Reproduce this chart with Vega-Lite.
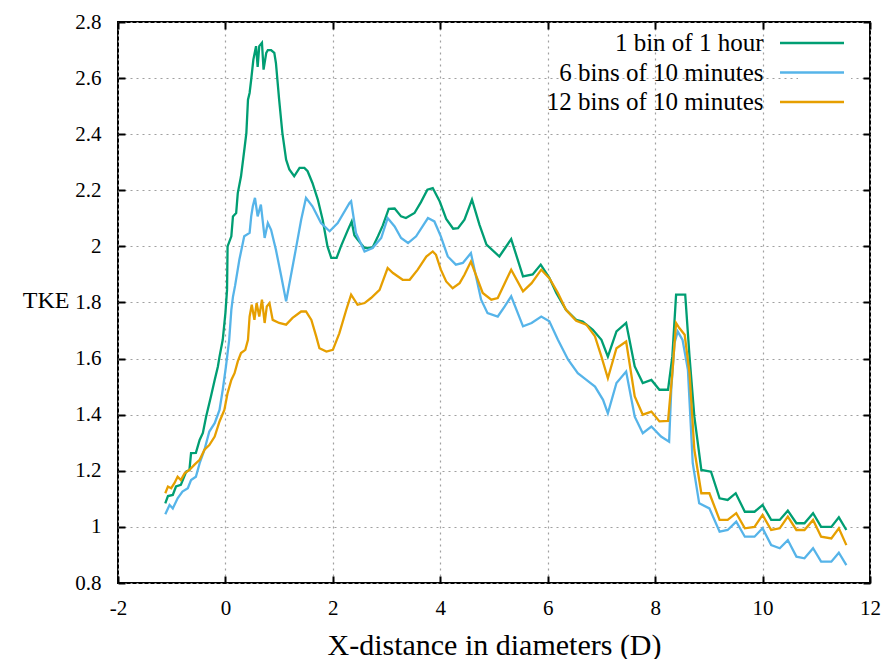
{
"$schema": "https://vega.github.io/schema/vega-lite/v6.json",
"autosize": "none",
"width": 752,
"height": 561,
"padding": {"left": 118, "top": 22, "right": 13, "bottom": 76},
"background": "white",
"config": {
  "view": {"stroke": "black", "strokeWidth": 2},
  "font": "Liberation Serif, Times New Roman, serif"
},
"datasets": {
 "d": [
  {"s":"1 bin of 1 hour","x":-1.12,"y":1.084},{"s":"1 bin of 1 hour","x":-1.07,"y":1.11},{"s":"1 bin of 1 hour","x":-0.98,"y":1.114},{"s":"1 bin of 1 hour","x":-0.92,"y":1.144},{"s":"1 bin of 1 hour","x":-0.83,"y":1.15},{"s":"1 bin of 1 hour","x":-0.73,"y":1.197},{"s":"1 bin of 1 hour","x":-0.67,"y":1.203},{"s":"1 bin of 1 hour","x":-0.64,"y":1.263},{"s":"1 bin of 1 hour","x":-0.55,"y":1.264},{"s":"1 bin of 1 hour","x":-0.48,"y":1.31},{"s":"1 bin of 1 hour","x":-0.42,"y":1.335},{"s":"1 bin of 1 hour","x":-0.36,"y":1.393},{"s":"1 bin of 1 hour","x":-0.27,"y":1.465},{"s":"1 bin of 1 hour","x":-0.2,"y":1.524},{"s":"1 bin of 1 hour","x":-0.14,"y":1.572},{"s":"1 bin of 1 hour","x":-0.11,"y":1.607},{"s":"1 bin of 1 hour","x":-0.05,"y":1.667},{"s":"1 bin of 1 hour","x":0.0,"y":1.763},{"s":"1 bin of 1 hour","x":0.03,"y":1.845},{"s":"1 bin of 1 hour","x":0.04,"y":2.0},{"s":"1 bin of 1 hour","x":0.11,"y":2.036},{"s":"1 bin of 1 hour","x":0.14,"y":2.107},{"s":"1 bin of 1 hour","x":0.2,"y":2.119},{"s":"1 bin of 1 hour","x":0.23,"y":2.19},{"s":"1 bin of 1 hour","x":0.29,"y":2.25},{"s":"1 bin of 1 hour","x":0.36,"y":2.357},{"s":"1 bin of 1 hour","x":0.39,"y":2.405},{"s":"1 bin of 1 hour","x":0.42,"y":2.523},{"s":"1 bin of 1 hour","x":0.45,"y":2.547},{"s":"1 bin of 1 hour","x":0.48,"y":2.595},{"s":"1 bin of 1 hour","x":0.52,"y":2.666},{"s":"1 bin of 1 hour","x":0.57,"y":2.714},{"s":"1 bin of 1 hour","x":0.6,"y":2.64},{"s":"1 bin of 1 hour","x":0.63,"y":2.714},{"s":"1 bin of 1 hour","x":0.68,"y":2.726},{"s":"1 bin of 1 hour","x":0.71,"y":2.63},{"s":"1 bin of 1 hour","x":0.76,"y":2.69},{"s":"1 bin of 1 hour","x":0.79,"y":2.7},{"s":"1 bin of 1 hour","x":0.85,"y":2.7},{"s":"1 bin of 1 hour","x":0.91,"y":2.69},{"s":"1 bin of 1 hour","x":0.94,"y":2.654},{"s":"1 bin of 1 hour","x":1.0,"y":2.523},{"s":"1 bin of 1 hour","x":1.06,"y":2.405},{"s":"1 bin of 1 hour","x":1.13,"y":2.309},{"s":"1 bin of 1 hour","x":1.19,"y":2.274},{"s":"1 bin of 1 hour","x":1.28,"y":2.25},{"s":"1 bin of 1 hour","x":1.38,"y":2.28},{"s":"1 bin of 1 hour","x":1.47,"y":2.28},{"s":"1 bin of 1 hour","x":1.53,"y":2.268},{"s":"1 bin of 1 hour","x":1.62,"y":2.226},{"s":"1 bin of 1 hour","x":1.72,"y":2.167},{"s":"1 bin of 1 hour","x":1.81,"y":2.095},{"s":"1 bin of 1 hour","x":1.9,"y":2.0},{"s":"1 bin of 1 hour","x":1.97,"y":1.959},{"s":"1 bin of 1 hour","x":2.07,"y":1.959},{"s":"1 bin of 1 hour","x":2.15,"y":2.0},{"s":"1 bin of 1 hour","x":2.28,"y":2.059},{"s":"1 bin of 1 hour","x":2.35,"y":2.089},{"s":"1 bin of 1 hour","x":2.4,"y":2.04},{"s":"1 bin of 1 hour","x":2.46,"y":2.024},{"s":"1 bin of 1 hour","x":2.59,"y":1.994},{"s":"1 bin of 1 hour","x":2.74,"y":1.996},{"s":"1 bin of 1 hour","x":2.84,"y":2.036},{"s":"1 bin of 1 hour","x":2.93,"y":2.075},{"s":"1 bin of 1 hour","x":3.04,"y":2.134},{"s":"1 bin of 1 hour","x":3.15,"y":2.135},{"s":"1 bin of 1 hour","x":3.27,"y":2.107},{"s":"1 bin of 1 hour","x":3.36,"y":2.101},{"s":"1 bin of 1 hour","x":3.52,"y":2.119},{"s":"1 bin of 1 hour","x":3.64,"y":2.158},{"s":"1 bin of 1 hour","x":3.76,"y":2.202},{"s":"1 bin of 1 hour","x":3.86,"y":2.208},{"s":"1 bin of 1 hour","x":3.99,"y":2.16},{"s":"1 bin of 1 hour","x":4.11,"y":2.098},{"s":"1 bin of 1 hour","x":4.24,"y":2.063},{"s":"1 bin of 1 hour","x":4.33,"y":2.065},{"s":"1 bin of 1 hour","x":4.45,"y":2.095},{"s":"1 bin of 1 hour","x":4.59,"y":2.167},{"s":"1 bin of 1 hour","x":4.73,"y":2.077},{"s":"1 bin of 1 hour","x":4.86,"y":2.006},{"s":"1 bin of 1 hour","x":5.1,"y":1.964},{"s":"1 bin of 1 hour","x":5.32,"y":2.026},{"s":"1 bin of 1 hour","x":5.54,"y":1.893},{"s":"1 bin of 1 hour","x":5.72,"y":1.9},{"s":"1 bin of 1 hour","x":5.87,"y":1.935},{"s":"1 bin of 1 hour","x":6.03,"y":1.888},{"s":"1 bin of 1 hour","x":6.16,"y":1.834},{"s":"1 bin of 1 hour","x":6.34,"y":1.774},{"s":"1 bin of 1 hour","x":6.53,"y":1.738},{"s":"1 bin of 1 hour","x":6.65,"y":1.732},{"s":"1 bin of 1 hour","x":6.84,"y":1.703},{"s":"1 bin of 1 hour","x":7.0,"y":1.667},{"s":"1 bin of 1 hour","x":7.12,"y":1.607},{"s":"1 bin of 1 hour","x":7.28,"y":1.697},{"s":"1 bin of 1 hour","x":7.46,"y":1.727},{"s":"1 bin of 1 hour","x":7.62,"y":1.572},{"s":"1 bin of 1 hour","x":7.77,"y":1.513},{"s":"1 bin of 1 hour","x":7.93,"y":1.524},{"s":"1 bin of 1 hour","x":8.08,"y":1.489},{"s":"1 bin of 1 hour","x":8.24,"y":1.489},{"s":"1 bin of 1 hour","x":8.32,"y":1.607},{"s":"1 bin of 1 hour","x":8.39,"y":1.828},{"s":"1 bin of 1 hour","x":8.56,"y":1.828},{"s":"1 bin of 1 hour","x":8.64,"y":1.607},{"s":"1 bin of 1 hour","x":8.73,"y":1.393},{"s":"1 bin of 1 hour","x":8.86,"y":1.203},{"s":"1 bin of 1 hour","x":9.04,"y":1.197},{"s":"1 bin of 1 hour","x":9.2,"y":1.102},{"s":"1 bin of 1 hour","x":9.35,"y":1.096},{"s":"1 bin of 1 hour","x":9.5,"y":1.12},{"s":"1 bin of 1 hour","x":9.67,"y":1.054},{"s":"1 bin of 1 hour","x":9.85,"y":1.054},{"s":"1 bin of 1 hour","x":10.0,"y":1.078},{"s":"1 bin of 1 hour","x":10.16,"y":1.025},{"s":"1 bin of 1 hour","x":10.32,"y":1.025},{"s":"1 bin of 1 hour","x":10.47,"y":1.058},{"s":"1 bin of 1 hour","x":10.63,"y":1.013},{"s":"1 bin of 1 hour","x":10.78,"y":1.013},{"s":"1 bin of 1 hour","x":10.94,"y":1.049},{"s":"1 bin of 1 hour","x":11.09,"y":1.0},{"s":"1 bin of 1 hour","x":11.28,"y":1.0},{"s":"1 bin of 1 hour","x":11.42,"y":1.034},{"s":"1 bin of 1 hour","x":11.56,"y":0.989},

  {"s":"6 bins of 10 minutes","x":-1.12,"y":1.045},{"s":"6 bins of 10 minutes","x":-1.04,"y":1.078},{"s":"6 bins of 10 minutes","x":-0.98,"y":1.066},{"s":"6 bins of 10 minutes","x":-0.89,"y":1.102},{"s":"6 bins of 10 minutes","x":-0.8,"y":1.126},{"s":"6 bins of 10 minutes","x":-0.7,"y":1.138},{"s":"6 bins of 10 minutes","x":-0.64,"y":1.167},{"s":"6 bins of 10 minutes","x":-0.55,"y":1.179},{"s":"6 bins of 10 minutes","x":-0.48,"y":1.227},{"s":"6 bins of 10 minutes","x":-0.39,"y":1.275},{"s":"6 bins of 10 minutes","x":-0.3,"y":1.34},{"s":"6 bins of 10 minutes","x":-0.2,"y":1.37},{"s":"6 bins of 10 minutes","x":-0.11,"y":1.417},{"s":"6 bins of 10 minutes","x":-0.05,"y":1.489},{"s":"6 bins of 10 minutes","x":0.01,"y":1.572},{"s":"6 bins of 10 minutes","x":0.07,"y":1.667},{"s":"6 bins of 10 minutes","x":0.11,"y":1.774},{"s":"6 bins of 10 minutes","x":0.14,"y":1.82},{"s":"6 bins of 10 minutes","x":0.18,"y":1.86},{"s":"6 bins of 10 minutes","x":0.26,"y":1.953},{"s":"6 bins of 10 minutes","x":0.35,"y":2.036},{"s":"6 bins of 10 minutes","x":0.45,"y":2.048},{"s":"6 bins of 10 minutes","x":0.48,"y":2.107},{"s":"6 bins of 10 minutes","x":0.51,"y":2.143},{"s":"6 bins of 10 minutes","x":0.55,"y":2.173},{"s":"6 bins of 10 minutes","x":0.6,"y":2.107},{"s":"6 bins of 10 minutes","x":0.66,"y":2.149},{"s":"6 bins of 10 minutes","x":0.73,"y":2.03},{"s":"6 bins of 10 minutes","x":0.79,"y":2.083},{"s":"6 bins of 10 minutes","x":0.85,"y":2.059},{"s":"6 bins of 10 minutes","x":0.94,"y":1.988},{"s":"6 bins of 10 minutes","x":1.04,"y":1.893},{"s":"6 bins of 10 minutes","x":1.13,"y":1.804},{"s":"6 bins of 10 minutes","x":1.32,"y":2.0},{"s":"6 bins of 10 minutes","x":1.41,"y":2.095},{"s":"6 bins of 10 minutes","x":1.5,"y":2.173},{"s":"6 bins of 10 minutes","x":1.62,"y":2.143},{"s":"6 bins of 10 minutes","x":1.78,"y":2.083},{"s":"6 bins of 10 minutes","x":1.94,"y":2.054},{"s":"6 bins of 10 minutes","x":2.09,"y":2.083},{"s":"6 bins of 10 minutes","x":2.31,"y":2.155},{"s":"6 bins of 10 minutes","x":2.34,"y":2.161},{"s":"6 bins of 10 minutes","x":2.43,"y":2.048},{"s":"6 bins of 10 minutes","x":2.59,"y":1.982},{"s":"6 bins of 10 minutes","x":2.74,"y":1.994},{"s":"6 bins of 10 minutes","x":2.9,"y":2.03},{"s":"6 bins of 10 minutes","x":3.02,"y":2.101},{"s":"6 bins of 10 minutes","x":3.15,"y":2.071},{"s":"6 bins of 10 minutes","x":3.27,"y":2.03},{"s":"6 bins of 10 minutes","x":3.4,"y":2.012},{"s":"6 bins of 10 minutes","x":3.55,"y":2.036},{"s":"6 bins of 10 minutes","x":3.77,"y":2.101},{"s":"6 bins of 10 minutes","x":3.89,"y":2.089},{"s":"6 bins of 10 minutes","x":4.01,"y":2.036},{"s":"6 bins of 10 minutes","x":4.14,"y":1.964},{"s":"6 bins of 10 minutes","x":4.29,"y":1.935},{"s":"6 bins of 10 minutes","x":4.42,"y":1.941},{"s":"6 bins of 10 minutes","x":4.57,"y":1.976},{"s":"6 bins of 10 minutes","x":4.76,"y":1.81},{"s":"6 bins of 10 minutes","x":4.88,"y":1.762},{"s":"6 bins of 10 minutes","x":5.07,"y":1.75},{"s":"6 bins of 10 minutes","x":5.2,"y":1.786},{"s":"6 bins of 10 minutes","x":5.32,"y":1.822},{"s":"6 bins of 10 minutes","x":5.54,"y":1.715},{"s":"6 bins of 10 minutes","x":5.7,"y":1.727},{"s":"6 bins of 10 minutes","x":5.88,"y":1.75},{"s":"6 bins of 10 minutes","x":6.03,"y":1.733},{"s":"6 bins of 10 minutes","x":6.19,"y":1.667},{"s":"6 bins of 10 minutes","x":6.38,"y":1.596},{"s":"6 bins of 10 minutes","x":6.56,"y":1.548},{"s":"6 bins of 10 minutes","x":6.72,"y":1.524},{"s":"6 bins of 10 minutes","x":6.88,"y":1.5},{"s":"6 bins of 10 minutes","x":7.03,"y":1.453},{"s":"6 bins of 10 minutes","x":7.12,"y":1.405},{"s":"6 bins of 10 minutes","x":7.28,"y":1.513},{"s":"6 bins of 10 minutes","x":7.46,"y":1.554},{"s":"6 bins of 10 minutes","x":7.62,"y":1.393},{"s":"6 bins of 10 minutes","x":7.77,"y":1.334},{"s":"6 bins of 10 minutes","x":7.93,"y":1.358},{"s":"6 bins of 10 minutes","x":8.11,"y":1.322},{"s":"6 bins of 10 minutes","x":8.26,"y":1.304},{"s":"6 bins of 10 minutes","x":8.3,"y":1.489},{"s":"6 bins of 10 minutes","x":8.36,"y":1.655},{"s":"6 bins of 10 minutes","x":8.42,"y":1.697},{"s":"6 bins of 10 minutes","x":8.51,"y":1.667},{"s":"6 bins of 10 minutes","x":8.61,"y":1.56},{"s":"6 bins of 10 minutes","x":8.7,"y":1.227},{"s":"6 bins of 10 minutes","x":8.82,"y":1.084},{"s":"6 bins of 10 minutes","x":9.01,"y":1.066},{"s":"6 bins of 10 minutes","x":9.2,"y":0.983},{"s":"6 bins of 10 minutes","x":9.35,"y":0.989},{"s":"6 bins of 10 minutes","x":9.51,"y":1.019},{"s":"6 bins of 10 minutes","x":9.67,"y":0.965},{"s":"6 bins of 10 minutes","x":9.85,"y":0.965},{"s":"6 bins of 10 minutes","x":10.0,"y":0.995},{"s":"6 bins of 10 minutes","x":10.16,"y":0.935},{"s":"6 bins of 10 minutes","x":10.32,"y":0.924},{"s":"6 bins of 10 minutes","x":10.47,"y":0.953},{"s":"6 bins of 10 minutes","x":10.63,"y":0.894},{"s":"6 bins of 10 minutes","x":10.78,"y":0.888},{"s":"6 bins of 10 minutes","x":10.94,"y":0.924},{"s":"6 bins of 10 minutes","x":11.09,"y":0.876},{"s":"6 bins of 10 minutes","x":11.28,"y":0.876},{"s":"6 bins of 10 minutes","x":11.42,"y":0.908},{"s":"6 bins of 10 minutes","x":11.56,"y":0.864},

  {"s":"12 bins of 10 minutes","x":-1.12,"y":1.12},{"s":"12 bins of 10 minutes","x":-1.07,"y":1.144},{"s":"12 bins of 10 minutes","x":-1.01,"y":1.138},{"s":"12 bins of 10 minutes","x":-0.95,"y":1.156},{"s":"12 bins of 10 minutes","x":-0.89,"y":1.179},{"s":"12 bins of 10 minutes","x":-0.83,"y":1.167},{"s":"12 bins of 10 minutes","x":-0.76,"y":1.191},{"s":"12 bins of 10 minutes","x":-0.67,"y":1.203},{"s":"12 bins of 10 minutes","x":-0.58,"y":1.221},{"s":"12 bins of 10 minutes","x":-0.48,"y":1.239},{"s":"12 bins of 10 minutes","x":-0.39,"y":1.275},{"s":"12 bins of 10 minutes","x":-0.3,"y":1.292},{"s":"12 bins of 10 minutes","x":-0.2,"y":1.322},{"s":"12 bins of 10 minutes","x":-0.11,"y":1.376},{"s":"12 bins of 10 minutes","x":-0.02,"y":1.417},{"s":"12 bins of 10 minutes","x":0.04,"y":1.477},{"s":"12 bins of 10 minutes","x":0.11,"y":1.524},{"s":"12 bins of 10 minutes","x":0.17,"y":1.548},{"s":"12 bins of 10 minutes","x":0.23,"y":1.59},{"s":"12 bins of 10 minutes","x":0.29,"y":1.62},{"s":"12 bins of 10 minutes","x":0.37,"y":1.631},{"s":"12 bins of 10 minutes","x":0.42,"y":1.667},{"s":"12 bins of 10 minutes","x":0.45,"y":1.75},{"s":"12 bins of 10 minutes","x":0.49,"y":1.792},{"s":"12 bins of 10 minutes","x":0.54,"y":1.738},{"s":"12 bins of 10 minutes","x":0.58,"y":1.798},{"s":"12 bins of 10 minutes","x":0.63,"y":1.75},{"s":"12 bins of 10 minutes","x":0.68,"y":1.81},{"s":"12 bins of 10 minutes","x":0.73,"y":1.727},{"s":"12 bins of 10 minutes","x":0.77,"y":1.786},{"s":"12 bins of 10 minutes","x":0.82,"y":1.798},{"s":"12 bins of 10 minutes","x":0.88,"y":1.738},{"s":"12 bins of 10 minutes","x":1.0,"y":1.727},{"s":"12 bins of 10 minutes","x":1.13,"y":1.721},{"s":"12 bins of 10 minutes","x":1.25,"y":1.745},{"s":"12 bins of 10 minutes","x":1.41,"y":1.768},{"s":"12 bins of 10 minutes","x":1.5,"y":1.768},{"s":"12 bins of 10 minutes","x":1.6,"y":1.738},{"s":"12 bins of 10 minutes","x":1.69,"y":1.679},{"s":"12 bins of 10 minutes","x":1.75,"y":1.637},{"s":"12 bins of 10 minutes","x":1.88,"y":1.625},{"s":"12 bins of 10 minutes","x":2.0,"y":1.631},{"s":"12 bins of 10 minutes","x":2.12,"y":1.69},{"s":"12 bins of 10 minutes","x":2.25,"y":1.774},{"s":"12 bins of 10 minutes","x":2.34,"y":1.828},{"s":"12 bins of 10 minutes","x":2.46,"y":1.792},{"s":"12 bins of 10 minutes","x":2.59,"y":1.798},{"s":"12 bins of 10 minutes","x":2.71,"y":1.816},{"s":"12 bins of 10 minutes","x":2.87,"y":1.845},{"s":"12 bins of 10 minutes","x":3.02,"y":1.923},{"s":"12 bins of 10 minutes","x":3.12,"y":1.905},{"s":"12 bins of 10 minutes","x":3.3,"y":1.881},{"s":"12 bins of 10 minutes","x":3.43,"y":1.881},{"s":"12 bins of 10 minutes","x":3.58,"y":1.917},{"s":"12 bins of 10 minutes","x":3.74,"y":1.964},{"s":"12 bins of 10 minutes","x":3.86,"y":1.982},{"s":"12 bins of 10 minutes","x":3.92,"y":1.97},{"s":"12 bins of 10 minutes","x":4.01,"y":1.917},{"s":"12 bins of 10 minutes","x":4.11,"y":1.875},{"s":"12 bins of 10 minutes","x":4.23,"y":1.851},{"s":"12 bins of 10 minutes","x":4.36,"y":1.869},{"s":"12 bins of 10 minutes","x":4.45,"y":1.899},{"s":"12 bins of 10 minutes","x":4.57,"y":1.946},{"s":"12 bins of 10 minutes","x":4.79,"y":1.834},{"s":"12 bins of 10 minutes","x":4.95,"y":1.81},{"s":"12 bins of 10 minutes","x":5.07,"y":1.816},{"s":"12 bins of 10 minutes","x":5.2,"y":1.869},{"s":"12 bins of 10 minutes","x":5.32,"y":1.917},{"s":"12 bins of 10 minutes","x":5.54,"y":1.84},{"s":"12 bins of 10 minutes","x":5.7,"y":1.869},{"s":"12 bins of 10 minutes","x":5.88,"y":1.917},{"s":"12 bins of 10 minutes","x":6.03,"y":1.887},{"s":"12 bins of 10 minutes","x":6.19,"y":1.834},{"s":"12 bins of 10 minutes","x":6.34,"y":1.774},{"s":"12 bins of 10 minutes","x":6.53,"y":1.735},{"s":"12 bins of 10 minutes","x":6.72,"y":1.721},{"s":"12 bins of 10 minutes","x":6.88,"y":1.679},{"s":"12 bins of 10 minutes","x":7.0,"y":1.607},{"s":"12 bins of 10 minutes","x":7.12,"y":1.53},{"s":"12 bins of 10 minutes","x":7.28,"y":1.637},{"s":"12 bins of 10 minutes","x":7.46,"y":1.661},{"s":"12 bins of 10 minutes","x":7.62,"y":1.465},{"s":"12 bins of 10 minutes","x":7.77,"y":1.4},{"s":"12 bins of 10 minutes","x":7.93,"y":1.411},{"s":"12 bins of 10 minutes","x":8.08,"y":1.376},{"s":"12 bins of 10 minutes","x":8.24,"y":1.378},{"s":"12 bins of 10 minutes","x":8.32,"y":1.548},{"s":"12 bins of 10 minutes","x":8.39,"y":1.727},{"s":"12 bins of 10 minutes","x":8.45,"y":1.709},{"s":"12 bins of 10 minutes","x":8.55,"y":1.685},{"s":"12 bins of 10 minutes","x":8.64,"y":1.548},{"s":"12 bins of 10 minutes","x":8.73,"y":1.275},{"s":"12 bins of 10 minutes","x":8.86,"y":1.12},{"s":"12 bins of 10 minutes","x":9.01,"y":1.12},{"s":"12 bins of 10 minutes","x":9.2,"y":1.025},{"s":"12 bins of 10 minutes","x":9.35,"y":1.025},{"s":"12 bins of 10 minutes","x":9.51,"y":1.049},{"s":"12 bins of 10 minutes","x":9.67,"y":0.995},{"s":"12 bins of 10 minutes","x":9.85,"y":1.0},{"s":"12 bins of 10 minutes","x":10.0,"y":1.043},{"s":"12 bins of 10 minutes","x":10.16,"y":0.989},{"s":"12 bins of 10 minutes","x":10.32,"y":0.995},{"s":"12 bins of 10 minutes","x":10.47,"y":1.037},{"s":"12 bins of 10 minutes","x":10.63,"y":0.989},{"s":"12 bins of 10 minutes","x":10.78,"y":0.989},{"s":"12 bins of 10 minutes","x":10.94,"y":1.025},{"s":"12 bins of 10 minutes","x":11.09,"y":0.965},{"s":"12 bins of 10 minutes","x":11.28,"y":0.959},{"s":"12 bins of 10 minutes","x":11.42,"y":0.995},{"s":"12 bins of 10 minutes","x":11.56,"y":0.935}
 ]
},
"data": {"name": "d"},
"layer": [
 {
  "mark": {"type": "line", "strokeWidth": 2.3, "clip": true},
  "encoding": {
   "x": {"field": "x", "type": "quantitative",
     "scale": {"domain": [-2, 12], "nice": false, "zero": false},
     "axis": {"orient": "bottom", "values": [-2, 0, 2, 4, 6, 8, 10, 12], "labelExpr": "'' + datum.value", "title": "X-distance in diameters (D)", "labelFont": "Liberation Serif", "titleFont": "Liberation Serif", "labelColor": "black", "titleColor": "black", "titleFontWeight": "normal", "labelFontSize": 21, "titleFontSize": 30, "labelPadding": 14, "titlePadding": 12, "domain": false, "ticks": true, "tickColor": "black", "tickOpacity": 1, "tickWidth": 2, "tickSize": 7, "offset": -7, "grid": true, "gridColor": "#a0a0a0", "gridDash": [2, 4], "gridWidth": 1.2, "labelFlush": false}},
   "y": {"field": "y", "type": "quantitative",
     "scale": {"domain": [0.8, 2.8], "nice": false, "zero": false},
     "axis": {"orient": "left", "values": [0.8, 1, 1.2, 1.4, 1.6, 1.8, 2, 2.2, 2.4, 2.6, 2.8], "labelExpr": "'' + datum.value", "title": "TKE", "labelFont": "Liberation Serif", "titleFont": "Liberation Serif", "labelColor": "black", "titleColor": "black", "titleFontWeight": "normal", "labelFontSize": 21, "titleFontSize": 24, "labelPadding": 17, "titleAngle": 0, "titleAlign": "right", "titleBaseline": "middle", "titleX": -56, "titleY": 278, "domain": false, "ticks": true, "tickColor": "black", "tickOpacity": 1, "tickWidth": 2, "tickSize": 7, "offset": -7, "grid": true, "gridColor": "#a0a0a0", "gridDash": [2, 4], "gridWidth": 1.2, "labelFlush": false}},
   "color": {"field": "s", "type": "nominal",
     "scale": {"domain": ["1 bin of 1 hour", "6 bins of 10 minutes", "12 bins of 10 minutes"], "range": ["#009e73", "#56b4e9", "#e69f00"]},
     "legend": {"title": null, "orient": "none", "legendX": 680, "legendY": 7, "symbolType": "M-4,0H4", "symbolSize": 256, "symbolStrokeWidth": 2.5, "symbolOffset": 0, "labelAlign": "right", "labelOffset": -61, "labelFont": "Liberation Serif", "labelFontSize": 25, "labelColor": "black", "rowPadding": 3.5, "fillColor": "white", "padding": 1.5, "labelLimit": 400}}
  }
 },
 {
  "mark": {"type": "point", "opacity": 0},
  "encoding": {
   "x": {"field": "x", "type": "quantitative", "axis": {"orient": "top", "values": [-2, 0, 2, 4, 6, 8, 10, 12], "labels": false, "title": null, "grid": false, "domain": false, "ticks": true, "tickColor": "black", "tickOpacity": 1, "tickWidth": 2, "tickSize": 7, "offset": -7}},
   "y": {"field": "y", "type": "quantitative", "axis": {"orient": "right", "values": [0.8, 1, 1.2, 1.4, 1.6, 1.8, 2, 2.2, 2.4, 2.6, 2.8], "labels": false, "title": null, "grid": false, "domain": false, "ticks": true, "tickColor": "black", "tickOpacity": 1, "tickWidth": 2, "tickSize": 7, "offset": -7}}
  }
 }
],
"resolve": {"axis": {"x": "independent", "y": "independent"}}
}
